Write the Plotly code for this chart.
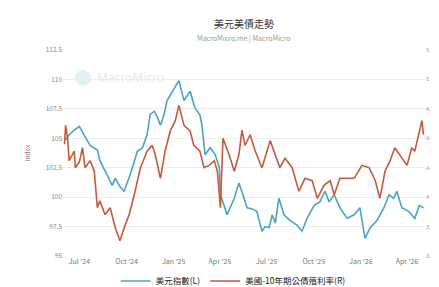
import plotly.graph_objects as go

title_text = "美元美債走勢"
subtitle_text = "MacroMicro.me | MacroMicro"
name_dxy = "美元指數(L)"
name_ust = "美國-10年期公債殖利率(R)"

dxy_dates = ["2024-06-04","2024-06-11","2024-06-21","2024-07-01","2024-07-11","2024-07-22","2024-08-05","2024-08-10",
             "2024-08-24","2024-09-03","2024-09-09","2024-09-18","2024-09-26","2024-10-08","2024-10-22","2024-11-01",
             "2024-11-10","2024-11-16","2024-11-24","2024-11-30","2024-12-06","2024-12-13","2024-12-19","2025-01-02",
             "2025-01-11","2025-01-21","2025-02-02","2025-02-11","2025-02-21","2025-02-25","2025-03-03","2025-03-13",
             "2025-03-23","2025-03-31","2025-04-02","2025-04-09","2025-04-15","2025-04-29","2025-05-08","2025-05-16",
             "2025-05-24","2025-06-03","2025-06-12","2025-06-22","2025-06-28","2025-07-06","2025-07-12","2025-07-18",
             "2025-07-25","2025-08-04","2025-08-16","2025-08-30","2025-09-08","2025-09-18","2025-10-02","2025-10-13",
             "2025-10-23","2025-10-31","2025-11-10","2025-11-21","2025-12-05","2025-12-19","2025-12-30","2026-01-09",
             "2026-01-19","2026-02-01","2026-02-15","2026-02-25","2026-03-06","2026-03-12","2026-03-22","2026-04-04",
             "2026-04-16","2026-04-25","2026-05-03"]
dxy_values = [104.85,105.3,105.7,106.0,105.2,104.4,104.0,103.1,
              101.9,101.0,101.6,100.9,100.5,101.9,103.9,104.2,
              105.3,107.0,107.3,106.8,106.1,107.0,108.2,109.3,
              109.9,108.2,109.0,107.6,107.0,106.1,103.6,104.2,
              103.6,102.5,100.2,99.3,98.5,99.9,101.2,100.2,
              99.1,99.0,98.8,97.1,97.5,97.4,98.5,97.8,
              99.9,98.5,98.0,97.6,97.1,98.2,99.3,99.6,
              100.5,99.6,100.2,99.1,98.2,98.5,99.1,96.5,
              97.4,98.0,99.1,100.2,99.9,100.5,99.1,98.8,
              98.2,99.3,99.1]

ust_dates = ["2024-06-02","2024-06-04","2024-06-08","2024-06-11","2024-06-17","2024-06-21","2024-06-23","2024-07-01",
             "2024-07-07","2024-07-12","2024-07-22","2024-07-30","2024-08-05","2024-08-10","2024-08-20","2024-08-30",
             "2024-09-09","2024-09-18","2024-09-28","2024-10-06","2024-10-16","2024-10-28","2024-11-10","2024-11-20",
             "2024-11-26","2024-12-06","2024-12-15","2024-12-25","2025-01-04","2025-01-11","2025-01-21","2025-02-02",
             "2025-02-09","2025-02-21","2025-03-01","2025-03-11","2025-03-21","2025-03-27","2025-04-02","2025-04-07",
             "2025-04-19","2025-04-29","2025-05-08","2025-05-14","2025-05-20","2025-05-30","2025-06-09","2025-06-22",
             "2025-07-08","2025-07-18","2025-07-27","2025-08-06","2025-08-20","2025-09-02","2025-09-14","2025-09-28",
             "2025-10-08","2025-10-21","2025-11-02","2025-11-10","2025-11-21","2025-12-05","2025-12-19","2026-01-03",
             "2026-01-17","2026-01-29","2026-02-07","2026-02-17","2026-02-27","2026-03-08","2026-03-18","2026-04-01",
             "2026-04-10","2026-04-16","2026-04-30","2026-05-03"]
ust_values = [4.45,4.61,4.50,4.31,4.36,4.39,4.25,4.30,
              4.42,4.25,4.31,4.22,3.91,3.97,3.85,3.91,
              3.74,3.63,3.76,3.85,4.02,4.25,4.39,4.44,
              4.36,4.16,4.39,4.56,4.65,4.78,4.61,4.56,
              4.44,4.39,4.25,4.27,4.31,4.22,3.91,4.50,
              4.36,4.22,4.36,4.57,4.44,4.53,4.39,4.25,
              4.48,4.36,4.25,4.33,4.25,4.05,4.16,4.14,
              3.99,4.10,4.14,4.02,4.16,4.16,4.16,4.27,
              4.25,4.14,3.99,4.22,4.31,4.42,4.36,4.27,
              4.42,4.39,4.65,4.53]

left_ticks = [95, 97.5, 100, 102.5, 105, 107.5, 110, 112.5]
right_ticks = [3.5, 3.75, 4, 4.25, 4.5, 4.75, 5, 5.25]
x_tick_vals = ["2024-07-01","2024-10-01","2025-01-01","2025-04-01","2025-07-01","2025-10-01","2026-01-01","2026-04-01"]
x_tick_text = ["Jul '24","Oct '24","Jan '25","Apr '25","Jul '25","Oct '25","Jan '26","Apr '26"]

BLUE = "#4aa3c6"
RED = "#c8593a"
FONT = "Noto Sans CJK TC, Noto Sans, sans-serif"

fig = go.Figure()
fig.add_trace(go.Scatter(x=dxy_dates, y=dxy_values, name=name_dxy, mode="lines",
                         line=dict(color=BLUE, width=1.6), yaxis="y"))
fig.add_trace(go.Scatter(x=ust_dates, y=ust_values, name=name_ust, mode="lines",
                         line=dict(color=RED, width=1.6), yaxis="y2"))

PH = 206.0  # plot height in px
fig.update_layout(
    width=439, height=287,
    margin=dict(l=55, r=22, t=42, b=39, autoexpand=False),
    paper_bgcolor="white", plot_bgcolor="white",
    font=dict(family=FONT, size=7, color="#888888"),
    showlegend=True,
    legend=dict(orientation="h", x=0.47, xanchor="center", y=-(273 - 248) / PH, yanchor="middle",
                font=dict(size=8.5, color="#222222"), itemwidth=30, tracegroupgap=0),
    xaxis=dict(type="date", tickvals=x_tick_vals, ticktext=x_tick_text,
               range=["2024-05-30", "2026-05-06"], showgrid=False, zeroline=False,
               showline=False, ticks="", tickfont=dict(size=7, color="#777777")),
    yaxis=dict(range=[95, 112.5], tickvals=left_ticks,
               ticktext=[f"{v:g}" for v in left_ticks],
               showgrid=True, gridcolor="#ececec", gridwidth=1, zeroline=False,
               tickfont=dict(size=6.5, color="#888888"),
               title=dict(text="Index", font=dict(size=6.5, color="#888888"), standoff=14)),
    yaxis2=dict(range=[3.5, 5.25], tickvals=right_ticks, overlaying="y", side="right",
                showgrid=False, zeroline=False, tickfont=dict(size=5.5, color="#999999")),
)

fig.add_annotation(text=title_text, x=0.5, y=1.0 + (42 - 15) / PH, xref="paper", yref="paper",
                   yanchor="middle", showarrow=False,
                   font=dict(size=10, color="#333333", family=FONT))
fig.add_annotation(text=subtitle_text, x=0.5, y=1.0 + (42 - 30) / PH, xref="paper", yref="paper",
                   yanchor="middle", showarrow=False,
                   font=dict(size=7, color="#999999", family=FONT))
fig.add_annotation(text="MacroMicro", x=(87 - 55) / 362, xanchor="left", xref="paper",
                   y=1 - (70 - 42) / PH, yref="paper", yanchor="middle", showarrow=False,
                   font=dict(size=12, color="#e4ecef", family="Noto Sans, sans-serif"))
fig.add_shape(type="circle", xref="paper", yref="paper",
              x0=(67 - 55) / 362, x1=(83 - 55) / 362,
              y0=1 - (78 - 42) / PH, y1=1 - (62 - 42) / PH,
              fillcolor="#e0f0f3", line=dict(width=0), layer="below")

fig.write_html("out.html")
